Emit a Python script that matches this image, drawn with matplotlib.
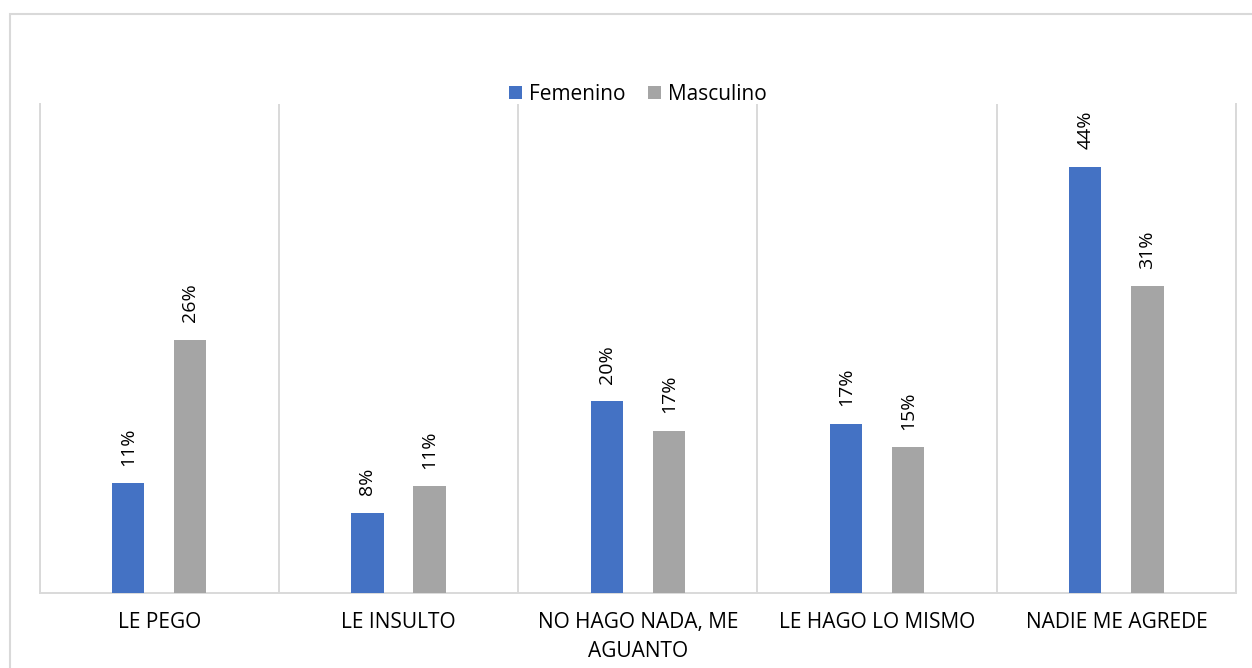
import matplotlib.pyplot as plt
import numpy as np
from matplotlib.patches import Rectangle

plt.rcParams["font.family"] = ["Open Sans", "DejaVu Sans"]

# datos
categorias = ["LE PEGO", "LE INSULTO", "NO HAGO NADA, ME\nAGUANTO", "LE HAGO LO MISMO", "NADIE ME AGREDE"]
femenino = [0.112, 0.082, 0.196, 0.173, 0.436]
masculino = [0.259, 0.109, 0.166, 0.149, 0.314]

azul = "#4472C4"
gris = "#A5A5A5"
linea = "#D9D9D9"

fig = plt.figure(figsize=(12.52, 6.68), dpi=100)
ax = fig.add_axes([0.0316, 0.1123, 0.9557, 0.732])

x = np.arange(len(categorias))
ancho = 0.135
b1 = ax.bar(x - 0.13, femenino, ancho, color=azul, label="Femenino", zorder=3)
b2 = ax.bar(x + 0.13, masculino, ancho, color=gris, label="Masculino", zorder=3)

# etiquetas de valor verticales
for barras, valores in [(b1, femenino), (b2, masculino)]:
    for rect, v in zip(barras, valores):
        ax.annotate(f"{v:.0%}", (rect.get_x() + rect.get_width() / 2, rect.get_height()),
                    xytext=(0, 12.5), textcoords="offset points", rotation=90,
                    ha="center", va="bottom", fontsize=14, color="#000000")

ax.set_xlim(-0.5, len(categorias) - 0.5)
ax.set_ylim(0, 0.5)
ax.set_yticks([])
ax.set_xticks(x)
ax.set_xticklabels(categorias, fontsize=15, color="#000000", linespacing=1.45)
ax.tick_params(axis="x", length=0, pad=14)

# separadores verticales entre categorías
ax.set_xticks(np.arange(-0.5, len(categorias), 1.0), minor=True)
ax.tick_params(axis="x", which="minor", length=0)
ax.grid(which="minor", axis="x", color=linea, linewidth=1.4, zorder=0)

ax.spines["top"].set_visible(False)
for s in ["left", "right", "bottom"]:
    ax.spines[s].set_color(linea)
    ax.spines[s].set_linewidth(1.4)

fig.legend(loc="center", bbox_to_anchor=(0.5095, 1 - 94 / 668), ncol=2, frameon=False,
           fontsize=15, handlelength=0.6, handleheight=0.6, handletextpad=0.35,
           columnspacing=1.1)

# marco exterior del gráfico
fig.patches.append(Rectangle((10 / 1252, -0.05), 1.2, 1 - 14 / 668 + 0.05,
                             transform=fig.transFigure, fill=False,
                             edgecolor=linea, linewidth=1.5))

fig.savefig("out.png", dpi=100)
